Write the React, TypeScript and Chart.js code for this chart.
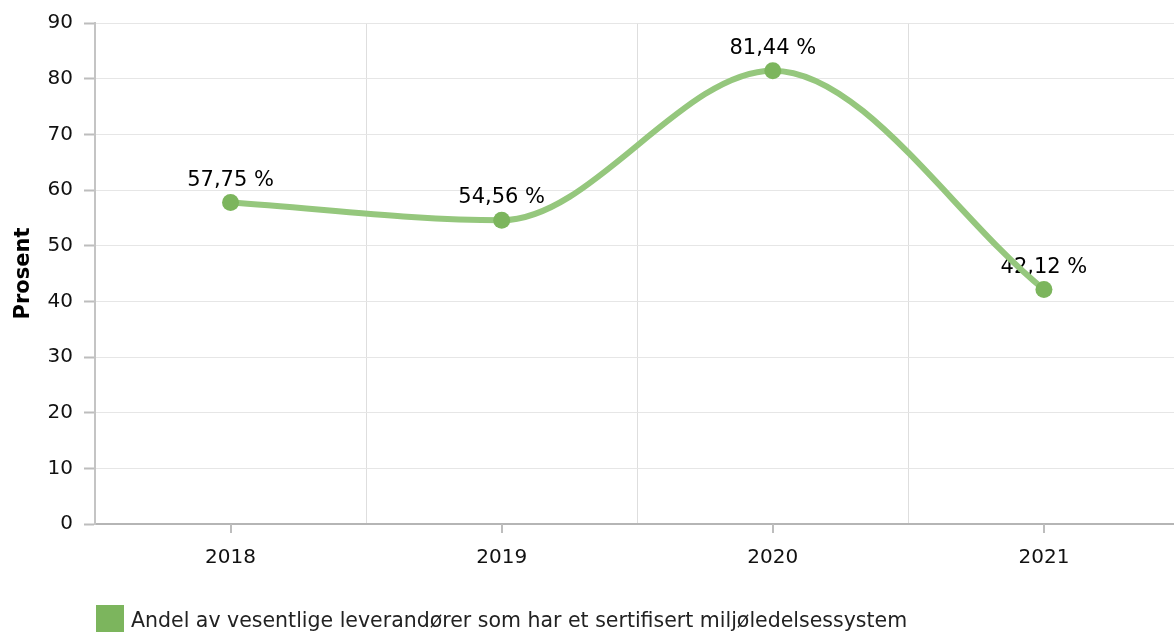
import React, { useEffect, useRef } from "react";
import { Chart, registerables } from "chart.js";

Chart.register(...registerables);

const categories = ["2018", "2019", "2020", "2021"];
const values = [57.75, 54.56, 81.44, 42.12];
const seriesLabel = "Andel av vesentlige leverandører som har et sertifisert miljøledelsessystem";
const yTicks = [0, 10, 20, 30, 40, 50, 60, 70, 80, 90];
const yTitle = "Prosent";

const FONT = "'DejaVu Sans', Verdana, sans-serif";
const LINE_COLOR = "#95c77d";
const POINT_COLOR = "#7cb55d";

const fmt = (v: number) => v.toFixed(2).replace(".", ",") + " %";

const dataLabelPlugin = {
  id: "dataLabels",
  beforeDatasetsDraw(chart: any) {
    const ctx = chart.ctx;
    const meta = chart.getDatasetMeta(0);
    ctx.save();
    ctx.font = `21px ${FONT}`;
    ctx.fillStyle = "#000";
    ctx.textAlign = "center";
    ctx.textBaseline = "alphabetic";
    meta.data.forEach((pt: any, i: number) => {
      ctx.fillText(fmt(values[i]), pt.x, pt.y - 17);
    });
    ctx.restore();
  },
};

const xTickPlugin = {
  id: "xTicks",
  afterDraw(chart: any) {
    const ctx = chart.ctx;
    const x = chart.scales.x;
    const area = chart.chartArea;
    ctx.save();
    ctx.strokeStyle = "#bdbdbd";
    ctx.lineWidth = 2;
    categories.forEach((_, i) => {
      const px = Math.round(x.getPixelForValue(i));
      ctx.beginPath();
      ctx.moveTo(px, area.bottom);
      ctx.lineTo(px, area.bottom + 9);
      ctx.stroke();
    });
    ctx.restore();
  },
};

const legendPlugin = {
  id: "customLegend",
  afterDraw(chart: any) {
    const ctx = chart.ctx;
    const ds = chart.data.datasets[0];
    ctx.save();
    ctx.fillStyle = POINT_COLOR;
    ctx.fillRect(96, 605, 28, 28);
    ctx.font = `20.5px ${FONT}`;
    ctx.fillStyle = "#222";
    ctx.textAlign = "left";
    ctx.textBaseline = "alphabetic";
    ctx.fillText(ds.label, 131, 627);
    ctx.restore();
  },
};

export default function App() {
  const ref = useRef<HTMLCanvasElement>(null);

  useEffect(() => {
    document.body.style.margin = "0";
    document.body.style.overflow = "hidden";
    const chart = new Chart(ref.current!, {
      type: "line",
      data: {
        labels: categories,
        datasets: [
          {
            label: seriesLabel,
            data: values,
            borderColor: LINE_COLOR,
            borderWidth: 6,
            cubicInterpolationMode: "monotone",
            pointRadius: 8.5,
            pointHoverRadius: 8.5,
            pointBackgroundColor: POINT_COLOR,
            pointBorderColor: POINT_COLOR,
            pointBorderWidth: 0,
            fill: false,
          },
        ],
      },
      options: {
        animation: false,
        responsive: false,
        maintainAspectRatio: false,
        layout: { padding: { top: 22, left: 0, right: 0, bottom: 0 } },
        plugins: {
          legend: { display: false },
          tooltip: { enabled: false },
        },
        scales: {
          x: {
            type: "category",
            offset: true,
            grid: {
              offset: true,
              color: "#dedede",
              lineWidth: 1,
              drawTicks: false,
            },
            border: { color: "#b5b5b5", width: 2 },
            ticks: {
              font: { family: FONT, size: 20 },
              color: "#111",
              padding: 22,
            },
            afterFit: (s: any) => {
              s.height = 108;
            },
          },
          y: {
            min: 0,
            max: 90,
            afterBuildTicks: (s: any) => {
              s.ticks = yTicks.map((v) => ({ value: v }));
            },
            grid: {
              color: "#e6e6e6",
              lineWidth: 1,
              tickLength: 11,
              tickColor: "#bdbdbd",
              tickWidth: 2,
            },
            border: { color: "#c4c4c4", width: 2 },
            ticks: {
              font: { family: FONT, size: 20 },
              color: "#111",
              padding: 11,
            },
            title: {
              display: true,
              text: yTitle,
              font: { family: FONT, size: 21, weight: "bold" },
              color: "#000",
              padding: { top: 11, bottom: 4 },
            },
            afterFit: (s: any) => {
              s.width = 95;
            },
          },
        },
      },
      plugins: [dataLabelPlugin, xTickPlugin, legendPlugin],
    });
    return () => chart.destroy();
  }, []);

  return (
    <div style={{ position: "absolute", left: 0, top: 0, width: 1174, height: 632, overflow: "hidden" }}>
      <canvas ref={ref} width={1188} height={632} style={{ display: "block" }} />
    </div>
  );
}
